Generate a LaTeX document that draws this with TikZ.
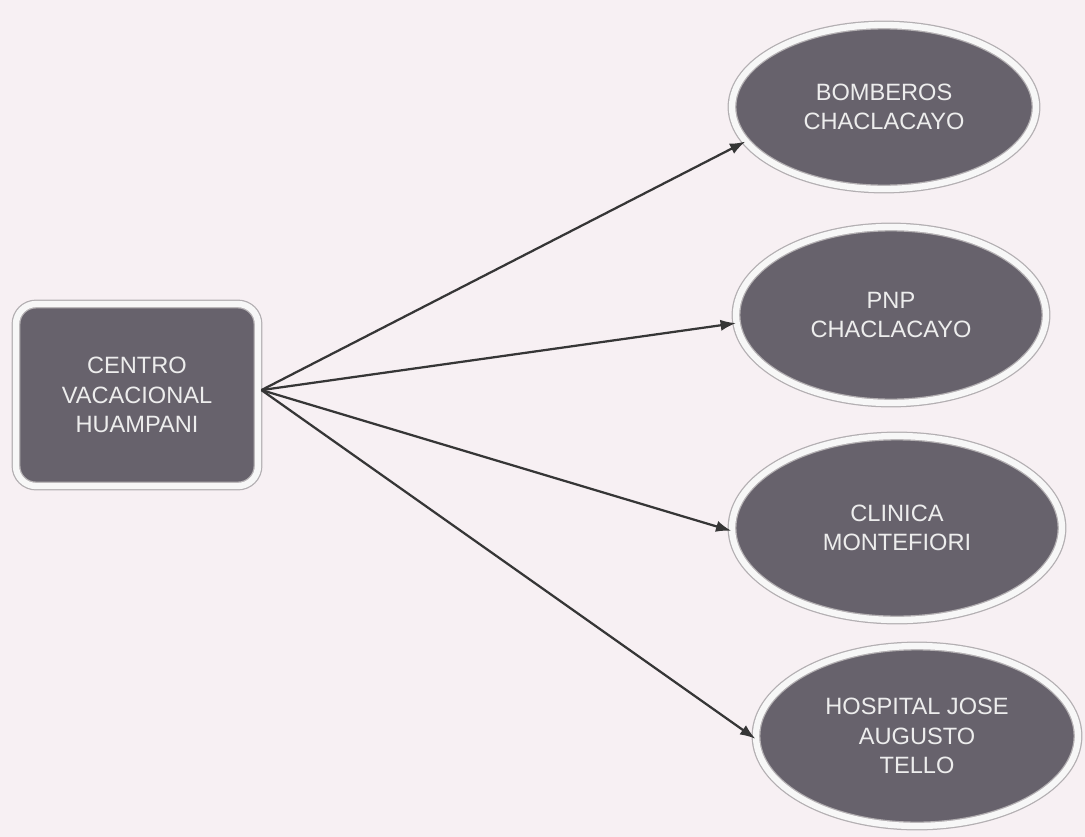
\documentclass[tikz,border=0pt]{standalone}
\usepackage{fontspec}
\setmainfont{Liberation Sans}
\usepackage{tikz}
\usetikzlibrary{shapes.geometric,arrows.meta}
\definecolor{papel}{HTML}{F7F0F3}
\definecolor{relleno}{HTML}{67626C}
\definecolor{borde}{HTML}{B3AFB2}
\definecolor{linea}{HTML}{363636}
\tikzset{
  caja/.style={draw=borde,double=white!90!borde,double distance=4.5pt,line width=0.9pt,
    fill=relleno,text=white!93!black,align=center,inner sep=0pt,
    font=\fontsize{16.8}{20.8}\selectfont},
  elipse/.style={caja,ellipse},
  flecha/.style={linea,line width=1.6pt,-{Latex[length=11pt,width=8pt]}}
}

\begin{document}
\begin{tikzpicture}
\fill[papel] (0,0) rectangle (27.125,-20.925);
\useasboundingbox (0,0) rectangle (27.125,-20.925);
\node[caja,rounded corners=0.5cm,minimum width=6.05cm,minimum height=4.55cm] (centro) at (3.425,-9.875) {CENTRO\\VACACIONAL\\HUAMPANI};
\node[elipse,minimum width=7.6cm,minimum height=4.1cm] (bomberos) at (22.1,-2.675) {BOMBEROS\\CHACLACAYO};
\node[elipse,minimum width=7.75cm,minimum height=4.4cm] (pnp) at (22.275,-7.875) {PNP\\CHACLACAYO};
\node[elipse,minimum width=8.25cm,minimum height=4.6cm] (clinica) at (22.425,-13.2) {CLINICA\\MONTEFIORI};
\node[elipse,minimum width=8.05cm,minimum height=4.5cm] (hospital) at (22.925,-18.4) {HOSPITAL JOSE\\AUGUSTO\\TELLO};
\coordinate (salida) at ([xshift=2pt,yshift=3.5pt]centro.east);
\foreach \destino/\ang in {bomberos/194,pnp/183,clinica/181,hospital/181} {
	\draw[flecha] (salida) -- (\destino.\ang);
}
\end{tikzpicture}
\end{document}
